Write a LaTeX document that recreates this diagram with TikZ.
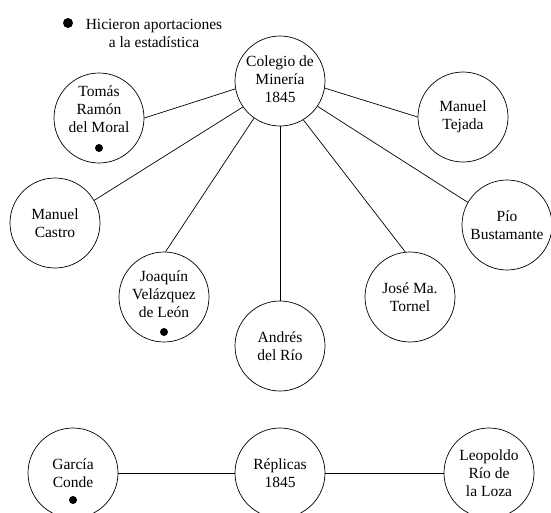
\documentclass[tikz,border=0pt]{standalone}
\usepackage{fontspec}
\setmainfont{Liberation Serif}
\usetikzlibrary{positioning}

\begin{document}
\begin{tikzpicture}[x=1pt,y=-1pt,
  persona/.style={draw,circle,line width=0.7pt,minimum size=90pt,inner sep=0pt,align=center,font=\fontsize{15.5}{18}\selectfont},
  aporte/.style={circle,fill,inner sep=0pt,minimum size=8pt},
  enlace/.style={line width=0.7pt}]
\useasboundingbox (0,0) rectangle (551,512);
% leyenda
\node[aporte,minimum size=10pt] (ley) at (68,23) {};
\node[align=center,font=\fontsize{15.5}{18}\selectfont] (leyenda) at (154,33) {Hicieron aportaciones\\a la estadística};
% Colegio de Mineria y sus miembros
\node[persona] (colegio) at (280,81) {\mbox{}\\[-10pt]Colegio de\\Minería\\1845};
\node[persona] (tomas) at (99,118) {Tomás\\Ramón\\del Moral\\\mbox{}};
\node[persona] (tejada) at (463,117) {Manuel\\Tejada};
\node[persona] (castro) at (55,223) {Manuel\\Castro};
\node[persona] (pio) at (507,225) {Pío\\Bustamante};
\node[persona] (joaquin) at (164,297) {Joaquín\\Velázquez\\de León\\[-12pt]\mbox{}};
\node[persona] (tornel) at (410,297) {José Ma.\\Tornel};
\node[persona] (andres) at (280,346) {Andrés\\del Río};
\node[aporte] (p1) at ([yshift=-30pt]tomas.center) {};
\node[aporte] (p2) at ([yshift=-35pt]joaquin.center) {};
\foreach \n/\a/\b in {tomas/190/0, castro/215/30, joaquin/235/88, andres/270/90,
                      tornel/301/96, pio/326/150, tejada/351/180}{
  \draw[enlace] (colegio.\a) -- (\n.\b);
}
% Replicas
\node[persona] (garcia) at (73,473) {García\\Conde};
\node[persona] (replicas) at (280,473) {Réplicas\\1845};
\node[persona] (leopoldo) at (489,473) {Leopoldo\\Río de\\la Loza};
\node[aporte] (p3) at ([yshift=-27pt]garcia.center) {};
\draw[enlace] (garcia) -- (replicas) -- (leopoldo);
\end{tikzpicture}
\end{document}
